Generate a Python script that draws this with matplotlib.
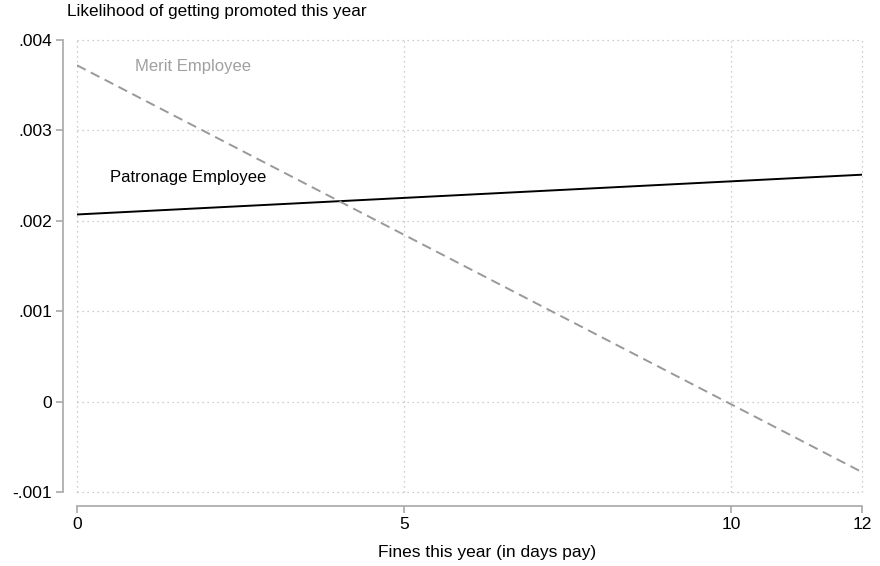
import numpy as np
import matplotlib.pyplot as plt

plt.rcParams['font.family'] = ['Liberation Sans', 'DejaVu Sans']

fines = [0, 12]
merit = [0.00372, -0.00078]
patronage = [0.00207, 0.00251]
xticks = [0, 5, 10, 12]
yticks = [-0.001, 0, 0.001, 0.002, 0.003, 0.004]
ylabels = ['-.001', '0', '.001', '.002', '.003', '.004']

fig = plt.figure(figsize=(8.8, 5.66), dpi=100)
W, H = 880, 566
ax = fig.add_axes([77 / W, 1 - 492 / H, 785 / W, 452 / H])

ax.plot(fines, patronage, color='black', linewidth=1.4, solid_capstyle='butt')
ax.plot(fines, merit, color='#999999', linewidth=1.4, linestyle=(0, (5, 3)))

ax.text(0.88, 0.00371, 'Merit Employee', color='#a0a0a0', fontsize=12,
        ha='left', va='center')
ax.text(0.5, 0.00248, 'Patronage Employee', color='black', fontsize=12,
        ha='left', va='center')

ax.set_xlim(0, 12)
ax.set_ylim(-0.001, 0.004)
ax.set_xticks(xticks)
ax.set_yticks(yticks)
ax.set_yticklabels(ylabels)

for s in ['top', 'right']:
    ax.spines[s].set_visible(False)
for s in ['left', 'bottom']:
    ax.spines[s].set_position(('outward', 10))
    ax.spines[s].set_color('#a8a8a8')
    ax.spines[s].set_linewidth(1.2)
ax.tick_params(axis='both', color='#a8a8a8', width=1.2, length=5,
               labelsize=12.5, pad=3)

ax.grid(True, linestyle=(0, (1, 3)), color='#bdbdbd', linewidth=0.9)
for gl in ax.get_xgridlines() + ax.get_ygridlines():
    gl.set_clip_on(False)
ax.set_axisbelow(True)

ax.set_ylabel('Likelihood of getting promoted this year', rotation=0,
              fontsize=12.3, ha='left', va='center')
ax.yaxis.set_label_coords(-0.0127, 1.062)
ax.set_xlabel('Fines this year (in days pay)', fontsize=12.5, va='center')
ax.xaxis.set_label_coords(0.522, -0.133)

fig.savefig('out.png', dpi=100)
